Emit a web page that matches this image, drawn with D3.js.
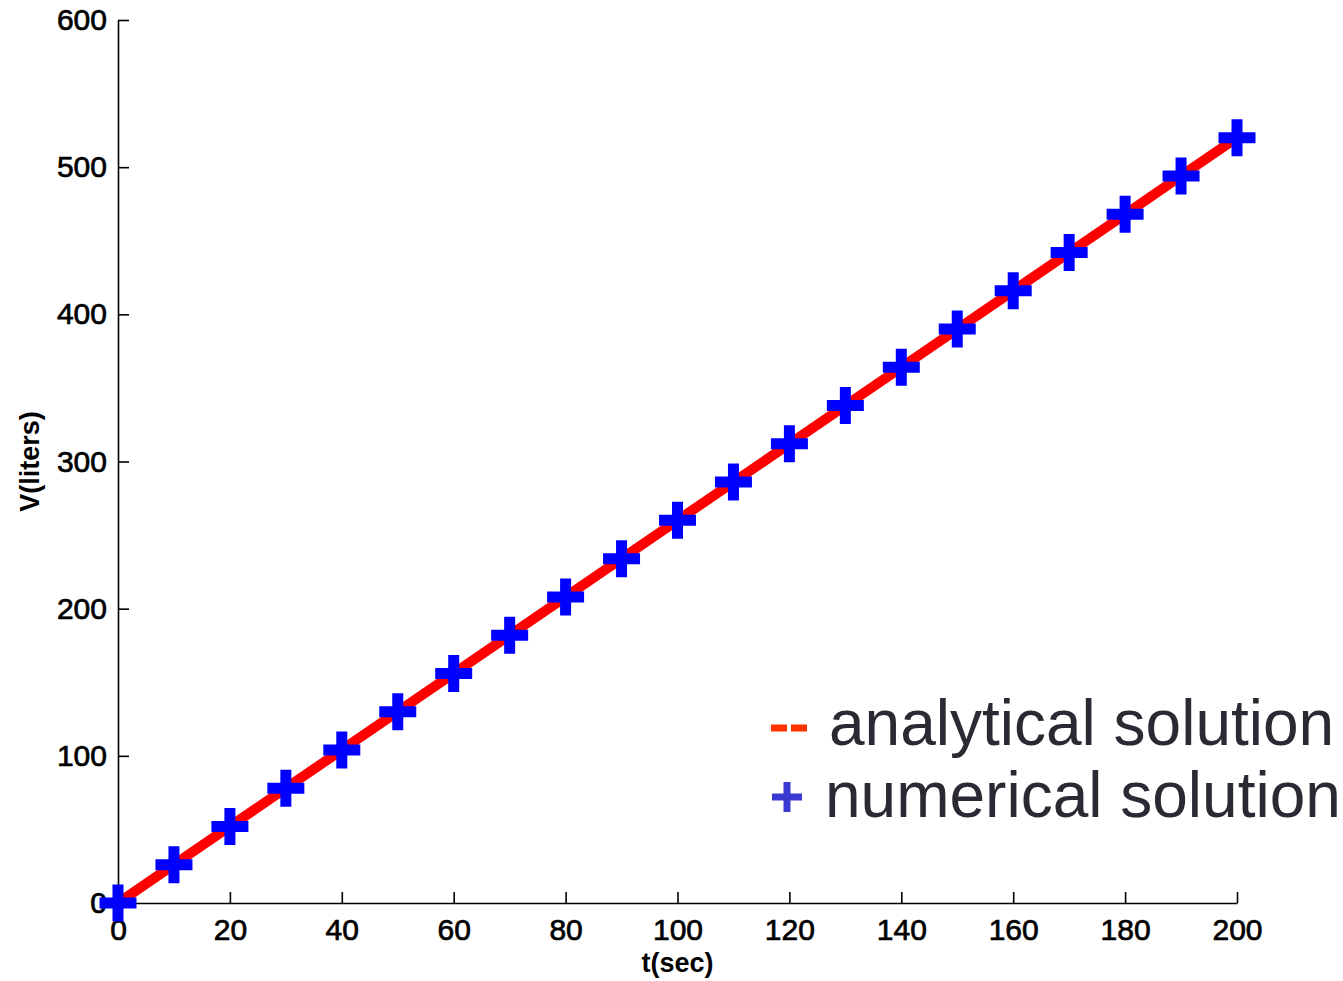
<!DOCTYPE html>
<html>
<head>
<meta charset="utf-8">
<script src="https://cdn.jsdelivr.net/npm/d3@7"></script>
<style>
  body { margin: 0; background: #fff; }
  svg { display: block; font-family: "Liberation Sans", Arial, sans-serif; }
</style>
</head>
<body>
<div id="chart"></div>
<script>
const tValues = [0, 10, 20, 30, 40, 50, 60, 70, 80, 90, 100, 110, 120, 130, 140, 150, 160, 170, 180, 190, 200];
const vNumerical = [0, 26, 52, 78, 104, 130, 156, 182, 208, 234, 260, 286, 312, 338, 364, 390, 416, 442, 468, 494, 520];
const vAnalytical = [0, 26, 52, 78, 104, 130, 156, 182, 208, 234, 260, 286, 312, 338, 364, 390, 416, 442, 468, 494, 520];
const xTicks = [0, 20, 40, 60, 80, 100, 120, 140, 160, 180, 200];
const yTicks = [0, 100, 200, 300, 400, 500, 600];
const legendLabels = ['analytical solution', 'numerical solution'];

const width = 1343;
const height = 981;
const margin = { left: 118, right: 106, top: 20, bottom: 78 };

const svg = d3.select('#chart')
  .append('svg')
  .attr('width', width)
  .attr('height', height)

const x = d3.scaleLinear()
  .domain([0, 200])
  .range([margin.left, width - margin.right])

const y = d3.scaleLinear()
  .domain([0, 600])
  .range([height - margin.bottom, margin.top])

// axes, ticks pointing inward like matlab
const xAxis = d3.axisBottom(x)
  .tickValues(xTicks)
  .tickSizeInner(-11)
  .tickSizeOuter(0)
  .tickPadding(26)

const yAxis = d3.axisLeft(y)
  .tickValues(yTicks)
  .tickSizeInner(-11)
  .tickSizeOuter(0)
  .tickPadding(22)

const gx = svg.append('g')
  .attr('transform', `translate(0, ${y(0)})`)
  .call(xAxis)

const gy = svg.append('g')
  .attr('transform', `translate(${x(0)}, 0)`)
  .call(yAxis)

;[gx, gy].forEach(g => {
  g.select('.domain').attr('stroke', '#000').attr('stroke-width', 1.6)
  g.selectAll('.tick line').attr('stroke', '#000').attr('stroke-width', 1.6)
  g.selectAll('.tick text')
    .attr('fill', '#000')
    .attr('stroke', '#000')
    .attr('stroke-width', 0.7)
    .style('font-size', '30px')
})
gx.selectAll('.tick text').attr('y', 26).attr('dy', '0.35em')
gy.selectAll('.tick text').attr('dx', '0').attr('x', -11)

svg.append('text')
  .attr('x', x(100))
  .attr('y', 972)
  .attr('text-anchor', 'middle')
  .style('font-size', '27px')
  .style('font-weight', 'bold')
  .text('t(sec)')

svg.append('text')
  .attr('transform', `translate(39, ${y(300)}) rotate(-90)`)
  .attr('text-anchor', 'middle')
  .style('font-size', '27px')
  .style('font-weight', 'bold')
  .text('V(liters)')

// analytical line
const line = d3.line()
  .x((d, i) => x(tValues[i]))
  .y(d => y(d))

svg.append('path')
  .datum(vAnalytical)
  .attr('d', line)
  .attr('fill', 'none')
  .attr('stroke', '#ff0000')
  .attr('stroke-width', 10)

// numerical markers
const plus = s => `M${-s},0H${s}M0,${-s}V${s}`

svg.selectAll('.mark')
  .data(vNumerical)
  .enter()
  .append('path')
  .attr('class', 'mark')
  .attr('transform', (d, i) => `translate(${x(tValues[i])}, ${y(d)})`)
  .attr('d', plus(18.5))
  .attr('stroke', '#0000ff')
  .attr('stroke-width', 11)
  .attr('fill', 'none')

// legend
const legend = svg.append('g')

legend.append('path')
  .attr('d', 'M771,728H787M791,728H807')
  .attr('stroke', '#ff3300')
  .attr('stroke-width', 7)

legend.append('path')
  .attr('transform', 'translate(787, 797)')
  .attr('d', plus(15))
  .attr('stroke', '#3a3ad2')
  .attr('stroke-width', 7)

legend.selectAll('.legend-text')
  .data(legendLabels)
  .enter()
  .append('text')
  .attr('class', 'legend-text')
  .attr('x', (d, i) => i === 0 ? 829 : 825)
  .attr('y', (d, i) => 745 + i * 72)
  .attr('fill', '#2a2a33')
  .style('font-size', '64px')
  .text(d => d)
</script>
</body>
</html>
